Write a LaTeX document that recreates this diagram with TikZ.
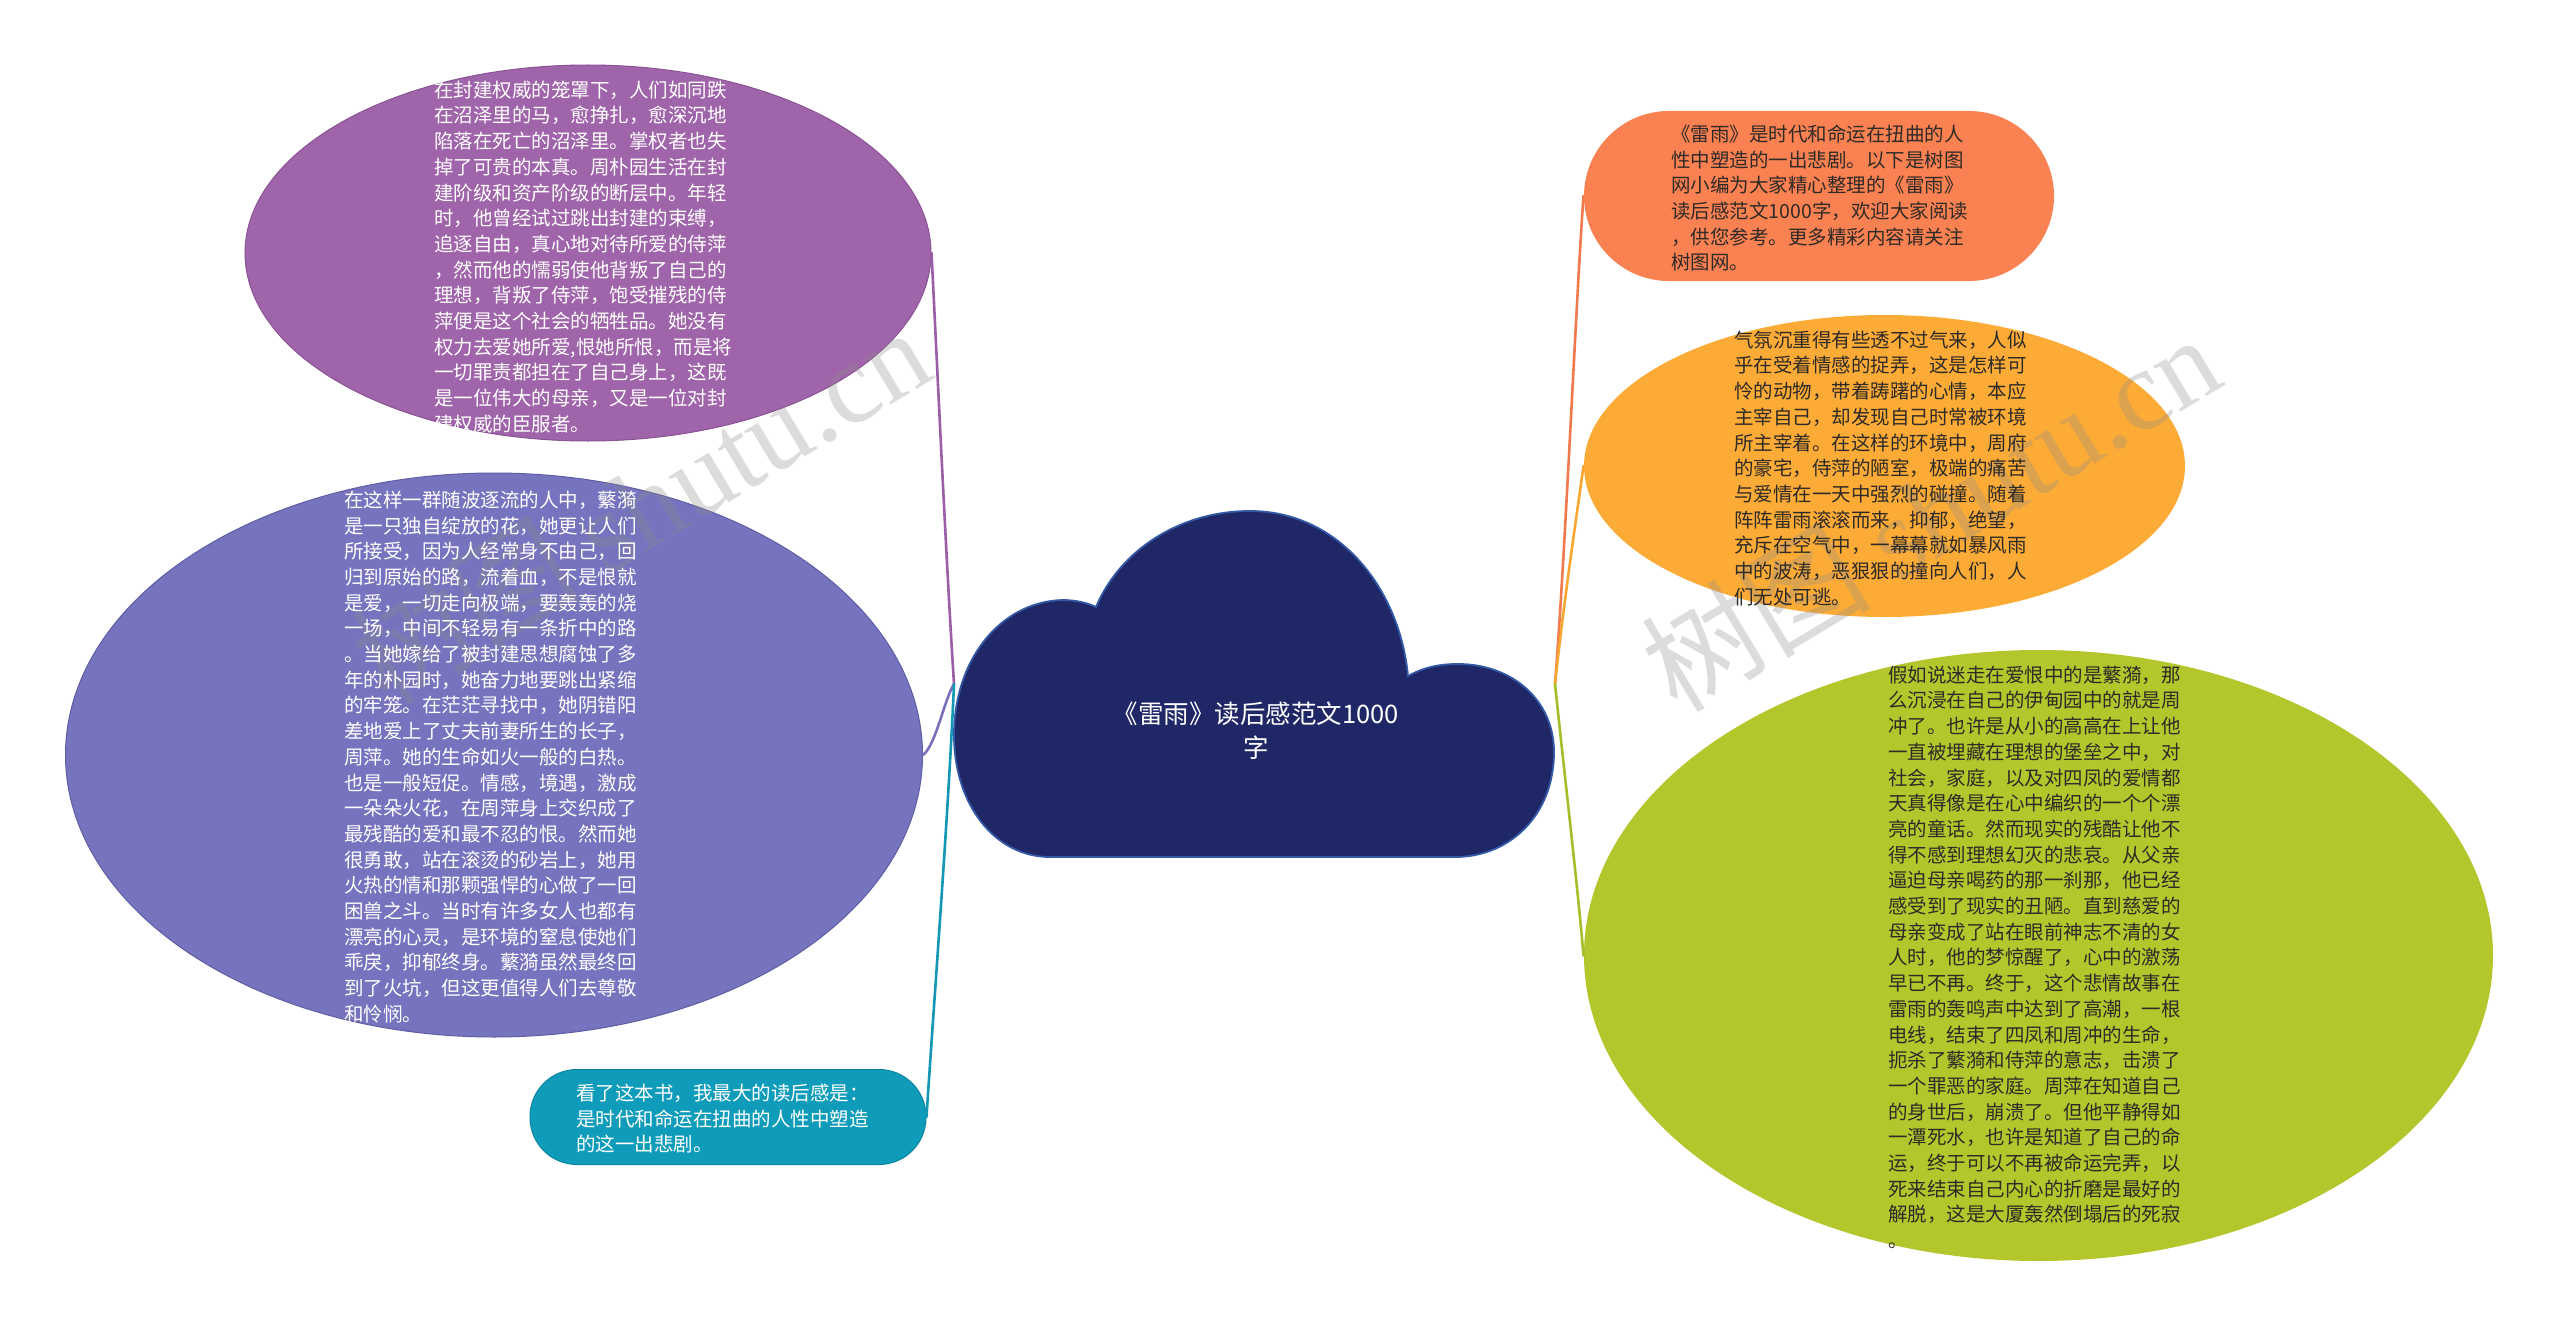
\documentclass[tikz,border=0pt]{standalone}
\usepackage{fontspec}
\setmainfont{Noto Sans CJK SC}
\newfontfamily\wmlatin{Liberation Serif}
\usetikzlibrary{shapes.geometric}
\definecolor{purpleC}{HTML}{9F64A9}
\definecolor{purpleD}{HTML}{8A5494}
\definecolor{purpleL}{HTML}{9A5FA6}
\definecolor{violetC}{HTML}{7674BE}
\definecolor{violetD}{HTML}{5F5DA3}
\definecolor{violetL}{HTML}{7A6FB8}
\definecolor{tealC}{HTML}{0F9CBA}
\definecolor{tealD}{HTML}{0C86A0}
\definecolor{tealL}{HTML}{1497B4}
\definecolor{navyC}{HTML}{1F2767}
\definecolor{cloudB}{HTML}{3459A6}
\definecolor{coralC}{HTML}{FA8152}
\definecolor{coralL}{HTML}{F0794E}
\definecolor{orangeC}{HTML}{FCAB36}
\definecolor{orangeL}{HTML}{F9A632}
\definecolor{greenC}{HTML}{B3C62C}
\definecolor{greenL}{HTML}{A5BE2A}
\definecolor{darkT}{HTML}{2E2A26}
\begin{document}
\begin{tikzpicture}[x=1pt,y=-1pt,
  blob/.style={ellipse, inner sep=0pt, line width=1pt},
  pill/.style={rectangle, inner sep=0pt, line width=1pt},
  bodytext/.style={anchor=north west, inner sep=0pt, align=left, font=\fontsize{19.5pt}{25.7pt}\selectfont},
  link/.style={line width=2.6pt, line cap=round},
  wmark/.style={rotate=31, text=black!45, opacity=0.3, inner sep=0pt, font=\fontsize{115pt}{115pt}\selectfont}
]
\useasboundingbox (0,0) rectangle (2560,1327);
\fill[white] (0,0) rectangle (2560,1327);

% shapes
\node[blob, fill=purpleC, draw=purpleD, minimum width=686pt, minimum height=376pt] (purple) at (588,253) {};
\node[blob, fill=violetC, draw=violetD, minimum width=857pt, minimum height=564pt] (violet) at (494,755) {};
\node[pill, rounded corners=47pt, fill=tealC, draw=tealD, minimum width=396pt, minimum height=95pt] (teal) at (728,1117) {};
\node[pill, rounded corners=85pt, fill=coralC, minimum width=470pt, minimum height=170pt] (coral) at (1819,196) {};
\node[blob, fill=orangeC, minimum width=601pt, minimum height=302pt] (orange) at (1884.5,466) {};
\node[blob, fill=greenC, minimum width=909pt, minimum height=611pt] (green) at (2038.5,955.5) {};

% cloud
\path[fill=navyC, draw=cloudB, line width=1.8pt]
  (954,735)
  .. controls (954,660) and (1000,602) .. (1062,600)
  .. controls (1076,600) and (1088,603) .. (1096,607)
  .. controls (1120,550) and (1180,511) .. (1250,511)
  .. controls (1340,511) and (1400,590) .. (1408,676)
  .. controls (1424,667) and (1440,664) .. (1458,664)
  .. controls (1512,664) and (1554,700) .. (1554,752)
  .. controls (1554,815) and (1510,857) .. (1455,857)
  -- (1050,857)
  .. controls (995,857) and (954,805) .. (954,735) -- cycle;
\node[align=center, text=white, inner sep=0pt, font=\fontsize{25.5pt}{34pt}\selectfont] (title) at (1256,731) {《雷雨》读后感范文1000\\字};

% connectors
\coordinate (jl) at (954,684);
\coordinate (jr) at (1555,684);
\draw[link, draw=purpleL] (jl) .. controls (946,560) and (936,340) .. (purple.east);
\draw[link, draw=violetL] (jl) .. controls (944,700) and (936,745) .. (violet.east);
\draw[link, draw=tealL] (jl) .. controls (948,820) and (934,1000) .. (teal.east);
\draw[link, draw=coralL] (jr) .. controls (1565,560) and (1576,300) .. (coral.west);
\draw[link, draw=orangeL] (jr) .. controls (1564,600) and (1576,520) .. (orange.west);
\draw[link, draw=greenL] (jr) .. controls (1565,780) and (1577,880) .. (green.west);

% watermarks
\node[wmark] (wm1) at (640,505) {树图 {\wmlatin shutu.cn}};
\node[wmark] (wm2) at (1930,512) {树图 {\wmlatin shutu.cn}};

% texts
\node[bodytext, text=white] (tpurple) at (434,80.6) {在封建权威的笼罩下，人们如同跌\\在沼泽里的马，愈挣扎，愈深沉地\\陷落在死亡的沼泽里。掌权者也失\\掉了可贵的本真。周朴园生活在封\\建阶级和资产阶级的断层中。年轻\\时，他曾经试过跳出封建的束缚，\\追逐自由，真心地对待所爱的侍萍\\，然而他的懦弱使他背叛了自己的\\理想，背叛了侍萍，饱受摧残的侍\\萍便是这个社会的牺牲品。她没有\\权力去爱她所爱,恨她所恨，而是将\\一切罪责都担在了自己身上，这既\\是一位伟大的母亲，又是一位对封\\建权威的臣服者。};

\node[bodytext, text=white] (tviolet) at (344,490.6) {在这样一群随波逐流的人中，蘩漪\\是一只独自绽放的花，她更让人们\\所接受，因为人经常身不由己，回\\归到原始的路，流着血，不是恨就\\是爱，一切走向极端，要轰轰的烧\\一场，中间不轻易有一条折中的路\\。当她嫁给了被封建思想腐蚀了多\\年的朴园时，她奋力地要跳出紧缩\\的牢笼。在茫茫寻找中，她阴错阳\\差地爱上了丈夫前妻所生的长子，\\周萍。她的生命如火一般的白热。\\也是一般短促。情感，境遇，激成\\一朵朵火花，在周萍身上交织成了\\最残酷的爱和最不忍的恨。然而她\\很勇敢，站在滚烫的砂岩上，她用\\火热的情和那颗强悍的心做了一回\\困兽之斗。当时有许多女人也都有\\漂亮的心灵，是环境的窒息使她们\\乖戾，抑郁终身。蘩漪虽然最终回\\到了火坑，但这更值得人们去尊敬\\和怜悯。};

\node[bodytext, text=white] (tteal) at (576,1083.6) {看了这本书，我最大的读后感是：\\是时代和命运在扭曲的人性中塑造\\的这一出悲剧。};

\node[bodytext, text=darkT] (tcoral) at (1671,124.6) {《雷雨》是时代和命运在扭曲的人\\性中塑造的一出悲剧。以下是树图\\网小编为大家精心整理的《雷雨》\\读后感范文1000字，欢迎大家阅读\\，供您参考。更多精彩内容请关注\\树图网。};

\node[bodytext, text=darkT] (torange) at (1734,330.6) {气氛沉重得有些透不过气来，人似\\乎在受着情感的捉弄，这是怎样可\\怜的动物，带着踌躇的心情，本应\\主宰自己，却发现自己时常被环境\\所主宰着。在这样的环境中，周府\\的豪宅，侍萍的陋室，极端的痛苦\\与爱情在一天中强烈的碰撞。随着\\阵阵雷雨滚滚而来，抑郁，绝望，\\充斥在空气中，一幕幕就如暴风雨\\中的波涛，恶狠狠的撞向人们，人\\们无处可逃。};

\node[bodytext, text=darkT] (tgreen) at (1888,665.6) {假如说迷走在爱恨中的是蘩漪，那\\么沉浸在自己的伊甸园中的就是周\\冲了。也许是从小的高高在上让他\\一直被埋藏在理想的堡垒之中，对\\社会，家庭，以及对四凤的爱情都\\天真得像是在心中编织的一个个漂\\亮的童话。然而现实的残酷让他不\\得不感到理想幻灭的悲哀。从父亲\\逼迫母亲喝药的那一刹那，他已经\\感受到了现实的丑陋。直到慈爱的\\母亲变成了站在眼前神志不清的女\\人时，他的梦惊醒了，心中的激荡\\早已不再。终于，这个悲情故事在\\雷雨的轰鸣声中达到了高潮，一根\\电线，结束了四凤和周冲的生命，\\扼杀了蘩漪和侍萍的意志，击溃了\\一个罪恶的家庭。周萍在知道自己\\的身世后，崩溃了。但他平静得如\\一潭死水，也许是知道了自己的命\\运，终于可以不再被命运完弄，以\\死来结束自己内心的折磨是最好的\\解脱，这是大厦轰然倒塌后的死寂\\。};
\end{tikzpicture}
\end{document}
